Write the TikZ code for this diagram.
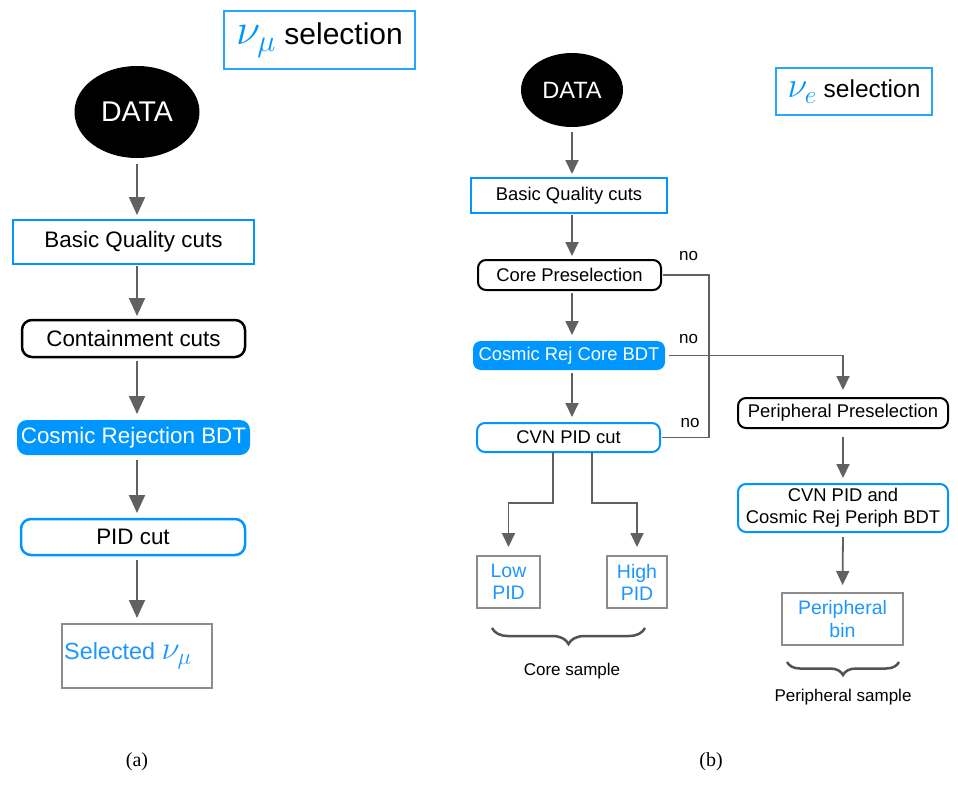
\RequirePackage{fix-cm}
\documentclass[tikz,border=0pt]{standalone}
\usepackage{fontspec}
\setmainfont{Liberation Sans}
\newfontfamily\serifF{Liberation Serif}
\usetikzlibrary{arrows.meta,shapes.geometric,decorations.pathreplacing,calc}
\definecolor{nblue}{RGB}{0,150,255}
\definecolor{tblue}{RGB}{30,150,255}
\definecolor{agray}{RGB}{97,97,97}
\definecolor{bgray}{RGB}{140,140,140}
\begin{document}
\begin{tikzpicture}[x=1pt,y=-1pt,
  every node/.style={inner sep=0pt, outer sep=0pt},
  fL/.style={font=\fontsize{22.4}{26}\selectfont},
  fR/.style={font=\fontsize{18.4}{22}\selectfont},
  sqblue/.style={draw=nblue, line width=2.5pt},
  blackround/.style={draw=black, line width=2.5pt, rounded corners=10pt},
  bluefill/.style={fill=nblue, text=white, rounded corners=10pt},
  blueround/.style={draw=nblue, line width=2.5pt, rounded corners=10pt},
  graybox/.style={draw=bgray, line width=2.5pt, text=tblue},
  datanode/.style={ellipse, fill=black, text=white},
  titlebox/.style={draw=nblue!85, line width=2pt},
  arrL/.style={draw=agray, line width=2pt, -{Triangle[width=16pt,length=18pt]}},
  arrR/.style={draw=agray, line width=1.8pt, -{Triangle[width=13pt,length=14pt]}},
  lineR/.style={draw=agray, line width=1.8pt},
  brc/.style={draw=agray!85!black, line width=2.5pt, decorate, decoration={brace, mirror, amplitude=16pt}},
  lab/.style={font=\fontsize{17}{20}\selectfont}
]
\useasboundingbox (0,0) rectangle (958,806);

% ---------------- left panel ----------------
\node[titlebox, minimum width=191, minimum height=58] (tmu) at (319.5,40)
  {\fontsize{30}{34}\selectfont{\fontsize{44}{48}\selectfont\textcolor{nblue}{$\nu_\mu$}} selection};
\node[datanode, minimum width=125, minimum height=92, font=\fontsize{28.5}{32}\selectfont] (dataL) at (137,112) {DATA};
\node[sqblue, fL, minimum width=241, minimum height=44] (bqL) at (133.5,242) {Basic Quality cuts};
\node[blackround, fL, minimum width=223, minimum height=37] (ccL) at (133.5,338.5) {Containment cuts};
\node[bluefill, fL, minimum width=233, minimum height=35] (crL) at (133.5,437.5) {Cosmic Rejection BDT};
\node[blueround, fL, minimum width=224, minimum height=36] (pidL) at (133,537) {PID cut};
\node[graybox, minimum width=150, minimum height=64, font=\fontsize{23.4}{27}\selectfont] (selL) at (137,656) {\hspace*{-18pt}Selected {\fontsize{33}{36}\selectfont$\nu_\mu$}};

\draw[arrL, shorten <=6pt, shorten >=5pt] (dataL.south) -- (dataL.south |- bqL.north);
\draw[arrL, shorten <=2pt, shorten >=4pt] (bqL.south -| dataL) -- (ccL.north -| dataL);
\draw[arrL, shorten <=4pt, shorten >=6pt] (ccL.south -| dataL) -- (crL.north -| dataL);
\draw[arrL, shorten <=5pt, shorten >=6pt] (crL.south -| dataL) -- (pidL.north -| dataL);
\draw[arrL, shorten <=5pt, shorten >=6pt] (pidL.south -| dataL) -- (selL.north);

\node[font=\serifF\fontsize{20}{24}\selectfont] (capa) at (137,762) {(a)};

% ---------------- right panel ----------------
\node[titlebox, minimum width=156, minimum height=47] (te) at (854,91.5)
  {\fontsize{24.5}{28}\selectfont{\fontsize{36}{40}\selectfont\textcolor{nblue}{$\nu_e$}} selection};
\node[datanode, minimum width=102, minimum height=74, font=\fontsize{23.6}{27}\selectfont] (dataR) at (572,90) {DATA};
\node[sqblue, fR, line width=2pt, minimum width=196, minimum height=35] (bqR) at (569,195.5) {Basic Quality cuts};
\node[blackround, fR, line width=2pt, rounded corners=8pt, minimum width=183, minimum height=30] (cpR) at (569.5,275) {Core Preselection};
\node[bluefill, fR, rounded corners=8pt, minimum width=192, minimum height=29] (crR) at (569,355.5) {Cosmic Rej Core BDT};
\node[blueround, fR, line width=2pt, rounded corners=8pt, minimum width=183, minimum height=29] (cvnR) at (568.5,437.5) {CVN PID cut};
\node[graybox, line width=2pt, align=center, minimum width=63, minimum height=52, font=\fontsize{19.5}{22}\selectfont] (lowR) at (508.5,582) {Low\\PID};
\node[graybox, line width=2pt, align=center, minimum width=60, minimum height=52, font=\fontsize{19.5}{22}\selectfont] (highR) at (637,582) {High\\PID};
\node[blackround, fR, line width=2pt, rounded corners=8pt, minimum width=210, minimum height=30] (ppR) at (843,413) {Peripheral Preselection};
\node[blueround, fR, line width=2pt, rounded corners=8pt, align=center, minimum width=210, minimum height=48] (cvn2R) at (843,508) {CVN PID and\\Cosmic Rej Periph BDT};
\node[graybox, line width=2pt, align=center, minimum width=121, minimum height=52, font=\fontsize{19.5}{23}\selectfont] (pbR) at (842.5,619) {Peripheral\\bin};

\draw[arrR, shorten <=5pt, shorten >=4pt] (dataR.south) -- (dataR.south |- bqR.north);
\draw[arrR, shorten <=2pt, shorten >=4pt] (bqR.south -| dataR) -- (cpR.north -| dataR);
\draw[arrR, shorten <=3pt, shorten >=6pt] (cpR.south -| dataR) -- (crR.north -| dataR);
\draw[arrR, shorten <=3pt, shorten >=6pt] (crR.south -| dataR) -- (cvnR.north -| dataR);

\coordinate (jn) at (709,275);
\draw[lineR, shorten <=2pt] (cpR.east) -- (jn) |- ([xshift=2pt]cvnR.east);
\draw[arrR, shorten <=4pt, shorten >=8pt] (crR.east) -| (ppR.north);
\draw[arrR, shorten >=9pt] ([xshift=-15.5pt]cvnR.south) -- ++(0,51) -| (lowR.north);
\draw[arrR, shorten >=9pt] ([xshift=23.5pt]cvnR.south) -- ++(0,51) -| (highR.north);
\draw[arrR, shorten <=9pt, shorten >=6pt] (ppR.south) -- (cvn2R.north);
\draw[arrR, shorten <=5pt, shorten >=8pt] (cvn2R.south) -- (pbR.north);

\node[lab] (no1) at (688.5,256) {no};
\node[lab] (no2) at (688.5,339) {no};
\node[lab] (no3) at (690,423) {no};

\coordinate (b1a) at (492,628);
\coordinate (b1b) at (645,628);
\draw[brc] (b1a) -- (b1b);
\node[lab] (coreS) at (572,671) {Core sample};
\coordinate (b2a) at (787,662);
\coordinate (b2b) at (899,662);
\draw[brc, decoration={amplitude=13pt}] (b2a) -- (b2b);
\node[lab] (perS) at (843,697) {Peripheral sample};

\node[font=\serifF\fontsize{20}{24}\selectfont] (capb) at (711,762) {(b)};
\end{tikzpicture}
\end{document}
